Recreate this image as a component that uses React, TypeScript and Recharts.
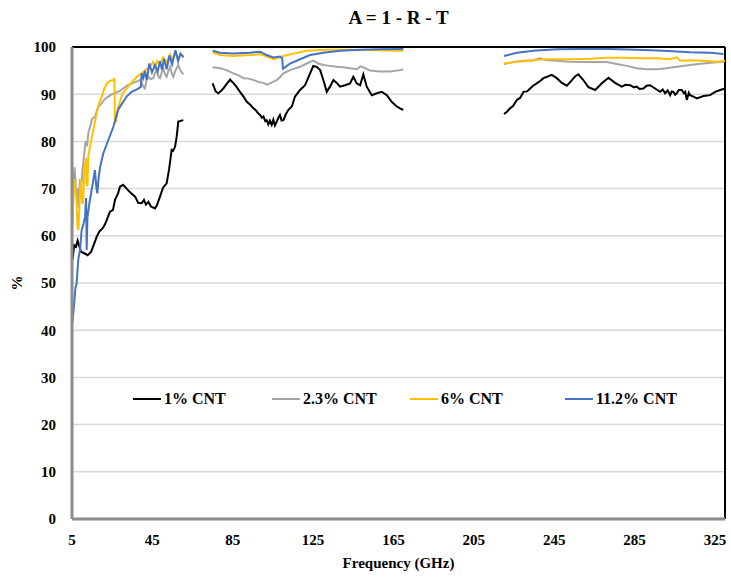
import { CartesianGrid, Line, LineChart, ReferenceLine, XAxis, YAxis } from "recharts";

const cnt1Band1: [number, number][] = [
  [5.3, 55], [6.1, 58], [7.0, 57.7], [7.8, 59], [8.6, 57.8], [9.5, 56.6], [11.1, 56.3], [12.8, 55.9],
  [14.5, 56.6], [16.1, 58.4], [17.3, 59.8], [18.6, 60.9], [20.3, 61.6], [21.6, 62.6], [23.9, 65.1],
  [25.4, 65.5], [26.4, 67.6], [27.9, 69], [28.9, 70.4], [30.4, 70.8], [32.2, 70], [33.9, 69.2],
  [36.4, 68.3], [37.9, 67], [39.7, 66.9], [40.8, 67.6], [41.8, 66.6], [43.0, 67.2], [44.3, 66.2],
  [46.3, 65.8], [47.3, 66.5], [48.8, 68.3], [50.3, 70.2], [52.1, 71.1], [53.3, 74], [54.6, 78.2],
  [55.3, 78], [56.3, 78.9], [57.1, 81], [57.9, 84.2], [60.4, 84.5],
];
const cnt1Band2: [number, number][] = [
  [75.0, 92.3], [75.8, 91.4], [76.5, 90.6], [77.8, 90.2], [79.0, 90.6], [80.3, 91.2], [82.0, 92.2],
  [83.7, 93.1], [84.5, 92.7], [85.3, 92.4], [87.0, 91.5], [88.6, 90.5], [90.2, 89.6], [92.0, 88.4],
  [93.6, 87.8], [95.3, 87.0], [96.5, 86.6], [97.5, 86.0], [98.6, 85.6], [99.5, 85.0], [100.3, 85.3],
  [101.2, 84.3], [101.9, 84.5], [102.7, 83.6], [103.5, 84.4], [104.4, 83.5], [105.2, 84.6],
  [106.0, 83.4], [106.9, 84.2], [107.7, 85.0], [108.5, 85.6], [109.3, 84.4], [110.2, 84.5],
  [111.5, 85.8], [112.7, 86.7], [114.4, 87.4], [116.0, 89.5], [118.5, 90.9], [121.0, 91.9],
  [123.5, 94.4], [125.1, 96.0], [126.8, 95.8], [128.5, 95.1], [130.1, 93.0], [131.8, 90.5],
  [133.4, 91.6], [135.1, 93.0], [136.8, 92.4], [138.4, 91.6], [140.9, 91.9], [143.4, 92.3],
  [145.0, 93.7], [146.7, 92.3], [148.4, 91.9], [150.0, 94.2], [151.7, 91.6], [154.2, 89.8],
  [156.7, 90.2], [159.2, 90.5], [161.7, 89.8], [164.1, 88.4], [166.6, 87.4], [169.1, 86.8], [169.9, 86.7],
];
const cnt1Band3: [number, number][] = [
  [220.0, 85.8], [221.5, 86.3], [223.0, 87.0], [224.5, 87.5], [226.4, 88.8], [228.0, 89.2],
  [229.7, 90.5], [231.5, 90.6], [233.0, 91.2], [234.5, 91.8], [236.3, 92.3], [238.0, 92.8],
  [239.6, 93.4], [241.5, 93.7], [243.8, 94.1], [246.3, 93.4], [248.8, 92.4], [251.3, 91.8],
  [253.8, 93.0], [255.5, 93.8], [257.0, 94.2], [259.5, 93.0], [262.0, 91.5], [265.4, 90.9],
  [268.7, 92.3], [272.0, 93.5], [275.3, 92.4], [278.6, 91.6], [280.5, 92.0], [282.8, 91.9],
  [284.5, 91.5], [286.1, 91.6], [287.5, 91.1], [289.4, 91.2], [291.0, 91.8], [292.7, 91.9],
  [295.2, 91.2], [297.7, 90.5], [299.0, 91.0], [300.2, 90.2], [301.5, 90.8], [302.7, 89.8],
  [303.5, 90.6], [304.3, 90.5], [305.2, 89.9], [306.0, 90.2], [307.0, 90.9], [308.5, 90.9],
  [309.5, 90.2], [310.2, 90.5], [311.0, 88.8], [312.0, 90.3], [312.6, 89.8], [314.3, 89.5],
  [316.0, 89.1], [319.3, 89.6], [322.6, 89.8], [325.1, 90.5], [327.6, 90.9], [330.0, 91.2],
];

const cnt23Band1: [number, number][] = [
  [5.2, 62], [5.7, 70], [6.2, 74.5], [6.7, 72], [7.2, 68], [7.7, 70], [8.2, 66], [9.0, 72],
  [9.7, 70.5], [10.2, 74], [11.0, 77], [11.7, 80], [12.5, 79], [13.2, 82], [14.0, 83.1],
  [15.0, 84.8], [16.4, 85.2], [17.9, 87.2], [19.8, 88.1], [21.4, 89], [23.1, 89.5], [24.9, 90],
  [26.4, 90.2], [28.4, 90.6], [30.5, 91.2], [32.4, 91.8], [34.7, 92.3], [36.9, 92.6], [38.9, 93],
  [39.8, 92.3], [40.6, 91.5], [41.3, 91.2], [42.1, 93], [43.0, 93.7], [44.1, 93.2], [45.5, 93.4],
  [46.3, 94.5], [47.2, 95.1], [48.1, 93.6], [48.8, 93.4], [49.6, 94.5], [50.4, 95.5], [51.3, 94.2],
  [52.1, 93.7], [53.0, 95], [53.8, 95.8], [54.6, 94.5], [55.4, 93.7], [56.5, 95], [57.9, 96.2],
  [59.0, 95], [60.4, 94.2],
];
const cnt23Band2: [number, number][] = [
  [75.0, 95.7], [78.7, 95.5], [82.0, 95.1], [85.3, 94.4], [88.0, 94.0], [90.3, 93.4], [93.0, 93.3],
  [95.3, 93.0], [98.0, 92.6], [100.2, 92.4], [102.0, 92.0], [103.6, 92.3], [105.0, 92.6],
  [106.9, 93.0], [108.5, 93.6], [110.2, 94.4], [113.5, 95.1], [118.5, 95.8], [121.8, 96.5],
  [125.1, 97.1], [127.6, 96.5], [130.1, 96.2], [133.4, 96.0], [136.8, 95.8], [140.1, 95.7],
  [143.4, 95.5], [146.7, 95.3], [148.5, 95.9], [150.0, 95.7], [153.3, 95.0], [158.3, 94.8],
  [163.3, 94.8], [168.3, 95.1], [169.9, 95.3],
];
const cnt23Band3: [number, number][] = [
  [220.0, 96.4], [224.7, 96.8], [229.7, 97.1], [234.6, 97.2], [238.0, 97.6], [241.3, 97.2],
  [246.3, 97.1], [252.9, 96.9], [259.5, 96.8], [266.2, 96.8], [271.2, 96.8], [276.1, 96.4],
  [281.1, 96.0], [286.1, 95.5], [291.1, 95.3], [296.1, 95.3], [301.0, 95.5], [306.0, 95.8],
  [312.6, 96.2], [319.3, 96.5], [324.2, 96.7], [329.2, 96.9],
];

const cnt6Band1: [number, number][] = [
  [5.2, 64], [5.7, 68], [6.2, 72], [6.7, 70], [7.2, 68], [7.7, 62], [8.2, 61.2], [9.0, 69.5],
  [9.5, 72], [10.0, 67], [10.5, 67], [11.2, 74], [12.0, 76.5], [12.3, 71], [12.7, 70.5],
  [13.1, 76.8], [14.0, 79], [15.6, 82.4], [17.3, 86], [18.4, 88], [19.8, 89.5], [20.9, 91],
  [22.3, 92.3], [23.9, 92.8], [25.6, 93], [26.1, 93.2], [26.4, 84], [26.9, 84.2], [27.7, 86.7],
  [28.9, 88.5], [30.2, 90.2], [31.9, 91], [33.5, 91.9], [35.4, 92.8], [37.2, 93.7], [39.7, 94.4],
  [41.3, 95], [43.8, 95.8], [45.3, 96.8], [46.3, 95.6], [47.3, 97], [48.8, 96.4], [50.3, 97.8],
  [52.1, 96.8], [53.8, 98.4], [55.0, 97.2], [56.3, 98.9], [58.0, 97.6], [59.3, 98.5], [60.5, 98],
];
const cnt6Band2: [number, number][] = [
  [75.0, 98.8], [78.7, 98.3], [85.3, 98.1], [93.6, 98.3], [98.6, 98.5], [101.9, 98.0],
  [105.2, 97.4], [108.5, 97.8], [110.2, 98.1], [115.2, 98.6], [121.8, 99.2], [131.8, 99.4],
  [143.4, 99.4], [169.9, 99.2],
];
const cnt6Band3: [number, number][] = [
  [220.0, 96.5], [226.4, 96.9], [233.0, 97.1], [239.6, 97.4], [246.3, 97.4], [254.6, 97.4],
  [262.9, 97.5], [271.2, 97.7], [279.5, 97.7], [287.8, 97.6], [296.1, 97.6], [302.7, 97.4],
  [306.0, 97.8], [307.7, 97.1], [312.6, 97.2], [319.3, 97.1], [325.9, 96.9], [330.0, 97.1],
];

const cnt112Band1: [number, number][] = [
  [5.2, 41.5], [6.1, 45.7], [6.7, 49], [7.3, 49.9], [8.1, 54.9], [9.0, 57], [9.8, 61.2],
  [10.7, 62.5], [11.5, 64], [12.0, 68], [12.3, 57], [12.7, 64], [13.7, 67], [14.8, 69.7],
  [15.7, 72], [16.4, 73.9], [17.2, 70], [17.6, 69], [18.2, 72], [19.0, 74.6], [20.6, 77.5],
  [23.1, 80.3], [25.6, 83.1], [28.0, 86.7], [29.9, 88], [32.2, 89.5], [34.7, 90.5], [38.0, 91.2],
  [39.3, 91.6], [39.7, 94.4], [40.5, 93.4], [41.3, 94.9], [42.2, 93], [43.5, 96.5], [44.8, 94.6],
  [46.3, 96.2], [47.6, 94.8], [48.8, 97], [49.8, 95.2], [50.8, 97.5], [52.1, 95.3], [53.5, 98.2],
  [54.8, 96.3], [56.5, 99.3], [57.8, 97], [59.0, 98.6], [60.5, 97.8],
];
const cnt112Band2: [number, number][] = [
  [75.0, 99.2], [78.7, 98.8], [85.3, 98.6], [93.6, 98.8], [98.6, 99.0], [101.9, 98.3],
  [105.2, 97.8], [108.5, 98.0], [109.6, 97.6], [110.0, 95.4], [112.0, 96.0], [113.5, 96.5],
  [118.5, 97.4], [123.5, 98.3], [130.1, 98.8], [138.4, 99.2], [148.4, 99.4], [158.3, 99.5], [169.9, 99.6],
];
const cnt112Band3: [number, number][] = [
  [220.0, 98.1], [226.4, 98.8], [234.6, 99.2], [246.3, 99.5], [259.5, 99.6], [272.8, 99.6],
  [286.1, 99.4], [299.3, 99.2], [312.6, 98.9], [322.6, 98.8], [329.2, 98.5],
];

const bandGaps = [67, 195];
const xTicks = [5, 45, 85, 125, 165, 205, 245, 285, 325];
const yTicks = [0, 10, 20, 30, 40, 50, 60, 70, 80, 90, 100];

const joinBands = (bands: [number, number][][]) =>
  bands.flatMap((band, i) => [
    ...(i > 0 ? [{ f: bandGaps[i - 1], v: null as number | null }] : []),
    ...band.map(([f, v]) => ({ f, v: v as number | null })),
  ]);

const series = [
  { name: "1% CNT", color: "#000000", data: joinBands([cnt1Band1, cnt1Band2, cnt1Band3]) },
  { name: "2.3% CNT", color: "#a5a5a5", data: joinBands([cnt23Band1, cnt23Band2, cnt23Band3]) },
  { name: "6% CNT", color: "#ffc000", data: joinBands([cnt6Band1, cnt6Band2, cnt6Band3]) },
  { name: "11.2% CNT", color: "#4472c4", data: joinBands([cnt112Band1, cnt112Band2, cnt112Band3]) },
];

const font = '"Liberation Serif", "Times New Roman", serif';
const legendLeft = [133, 272, 410, 565];

function LegendRow() {
  return (
    <div style={{ position: "absolute", left: 0, top: 389, width: 731, height: 20 }}>
      {series.map((s, i) => (
        <div
          key={s.name}
          style={{ position: "absolute", left: legendLeft[i], top: 0, display: "flex", alignItems: "center", height: 20 }}
        >
          <div style={{ width: 28, height: 2, background: s.color, marginRight: 3 }} />
          <span style={{ fontFamily: font, fontWeight: 700, fontSize: 16, color: "#000" }}>{s.name}</span>
        </div>
      ))}
    </div>
  );
}

export default function App() {
  return (
    <div style={{ position: "absolute", left: 0, top: 0, width: 731, height: 579, background: "#fff" }}>
      <LineChart width={731} height={579} margin={{ top: 47, right: 6, bottom: 0, left: 0 }}>
        <CartesianGrid vertical={false} stroke="#d9d9d9" strokeWidth={1.5} />
        <XAxis
          type="number"
          dataKey="f"
          domain={[5, 330]}
          ticks={xTicks}
          allowDataOverflow
          height={60}
          tickLine={false}
          tickSize={0}
          tickMargin={15}
          axisLine={{ stroke: "#8c8c8c", strokeWidth: 3 }}
          tick={{ fill: "#000", fontFamily: font, fontWeight: 700, fontSize: 15 }}
          label={{
            value: "Frequency (GHz)", position: "insideBottom", offset: 11,
            fill: "#000", fontFamily: font, fontWeight: 700, fontSize: 15,
          }}
        />
        <YAxis
          type="number"
          domain={[0, 100]}
          ticks={yTicks}
          width={72}
          tickLine={false}
          tickSize={0}
          tickMargin={16}
          axisLine={{ stroke: "#8c8c8c", strokeWidth: 3 }}
          tick={{ fill: "#000", fontFamily: font, fontWeight: 700, fontSize: 15 }}
        />
        <ReferenceLine y={100} stroke="#000" strokeWidth={2} />
        <ReferenceLine x={330} stroke="#000" strokeWidth={2} />
        {series.map((s) => (
          <Line
            key={s.name}
            data={s.data}
            dataKey="v"
            name={s.name}
            type="linear"
            stroke={s.color}
            strokeWidth={2}
            dot={false}
            activeDot={false}
            isAnimationActive={false}
          />
        ))}
      </LineChart>
      <div
        style={{
          position: "absolute", left: 72, top: 8, width: 653, textAlign: "center",
          fontFamily: font, fontWeight: 700, fontSize: 19, lineHeight: "20px",
        }}
      >
        A = 1 - R - T
      </div>
      <div
        style={{
          position: "absolute", left: 2, top: 273, width: 30, height: 20, lineHeight: "20px", textAlign: "center",
          transform: "rotate(-90deg)", fontFamily: font, fontWeight: 700, fontSize: 15,
        }}
      >
        %
      </div>
      <LegendRow />
    </div>
  );
}
